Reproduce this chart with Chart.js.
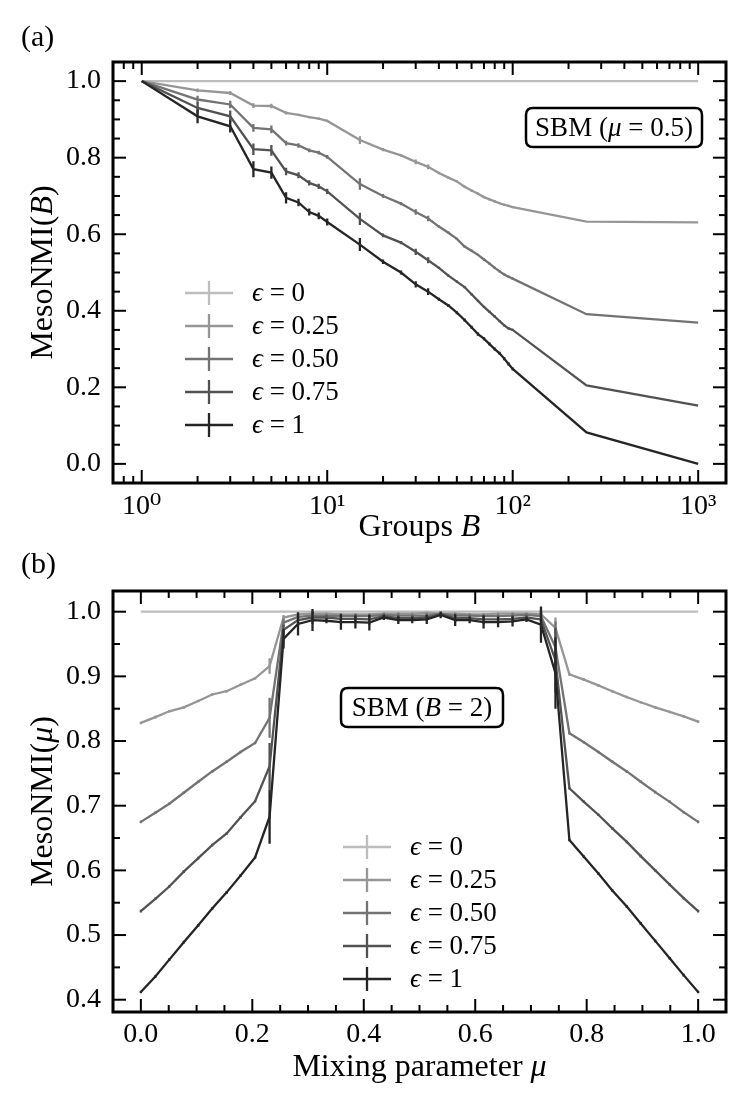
<!DOCTYPE html>
<html><head><meta charset="utf-8">
<script src="https://cdn.jsdelivr.net/npm/chart.js@4.4.1/dist/chart.umd.min.js"></script>
<style>
html,body{margin:0;padding:0;background:#fff;}
#wrap{position:relative;width:747px;height:1108px;overflow:hidden;}
#c1{position:absolute;left:0;top:0;}
#c2{position:absolute;left:0;top:545px;}
</style></head><body>
<div id="wrap"><canvas id="c1" width="747" height="545"></canvas><canvas id="c2" width="747" height="563"></canvas></div>
<script>
// ---------- DATA ----------
const LEGEND_EPS = ['0', '0.25', '0.50', '0.75', '1'];
const COLORS = ['#bdbdbd', '#969696', '#737373', '#525252', '#252525'];

// Panel (a): groups B
const groupsB = [1,2,3,4,5,6,7,8,9,10,15,20,25,30,35,40,45,50,55,60,65,70,75,80,85,90,95,100,250,1000];
const mesoB_eps0   = [1,1,1,1,1,1,1,1,1,1,1,1,1,1,1,1,1,1,1,1,1,1,1,1,1,1,1,1,1,1];
const mesoB_eps025 = [1.0,0.976,0.969,0.936,0.935,0.917,0.912,0.906,0.902,0.896,0.846,0.821,0.806,0.789,0.776,0.760,0.748,0.738,0.724,0.714,0.706,0.697,0.691,0.686,0.681,0.677,0.674,0.671,0.633,0.631];
const mesoB_eps050 = [1.0,0.952,0.939,0.878,0.874,0.838,0.832,0.819,0.813,0.802,0.731,0.700,0.680,0.658,0.641,0.620,0.604,0.588,0.568,0.557,0.546,0.534,0.523,0.512,0.503,0.495,0.489,0.484,0.391,0.369];
const mesoB_eps075 = [1.0,0.930,0.908,0.822,0.819,0.764,0.754,0.734,0.725,0.712,0.640,0.597,0.578,0.554,0.532,0.512,0.492,0.476,0.462,0.443,0.426,0.410,0.397,0.385,0.373,0.362,0.354,0.350,0.205,0.152];
const mesoB_eps1   = [1.0,0.908,0.882,0.770,0.761,0.695,0.683,0.658,0.648,0.632,0.573,0.528,0.500,0.469,0.450,0.430,0.414,0.395,0.376,0.357,0.339,0.327,0.313,0.300,0.289,0.275,0.261,0.248,0.082,0.0];
const errB_eps0   = [0,0,0,0,0,0,0,0,0,0,0,0,0,0,0,0,0,0,0,0,0,0,0,0,0,0,0,0,0,0];
const errB_eps025 = [0,0.005,0.005,0.006,0.006,0.004,0.003,0.003,0.003,0.003,0.010,0.004,0.003,0.006,0.006,0.003,0.003,0.003,0.003,0.003,0.003,0.003,0.003,0.003,0.003,0.003,0.003,0.003,0,0];
const errB_eps050 = [0,0.010,0.010,0.010,0.010,0.006,0.006,0.005,0.005,0.005,0.015,0.005,0.004,0.007,0.007,0.003,0.003,0.003,0.003,0.003,0.003,0.003,0.003,0.003,0.003,0.003,0.003,0.003,0,0];
const errB_eps075 = [0,0.015,0.015,0.015,0.014,0.010,0.008,0.007,0.007,0.007,0.016,0.005,0.004,0.008,0.008,0.003,0.003,0.003,0.003,0.003,0.003,0.003,0.003,0.003,0.003,0.003,0.003,0.003,0,0];
const errB_eps1   = [0,0.018,0.016,0.021,0.016,0.015,0.010,0.009,0.009,0.009,0.017,0.006,0.005,0.008,0.009,0.004,0.004,0.004,0.004,0.004,0.004,0.004,0.004,0.004,0.004,0.004,0.004,0.004,0,0];

// Panel (b): mixing parameter mu
const mixingMu = [0,0.026,0.051,0.077,0.103,0.128,0.154,0.179,0.205,0.231,0.256,0.282,0.308,0.333,0.359,0.385,0.410,0.436,0.462,0.487,0.513,0.538,0.564,0.590,0.615,0.641,0.667,0.692,0.718,0.744,0.769,0.795,0.821,0.846,0.872,0.897,0.923,0.949,0.974,1.0];
const mesoMu_eps0   = [1,1,1,1,1,1,1,1,1,1,1,1,1,1,1,1,1,1,1,1,1,1,1,1,1,1,1,1,1,1,1,1,1,1,1,1,1,1,1,1];
const mesoMu_eps025 = [0.828,0.837,0.846,0.852,0.862,0.872,0.877,0.887,0.897,0.916,0.991,0.996,0.997,0.997,0.996,0.996,0.996,0.997,0.997,0.997,0.998,0.997,0.997,0.996,0.996,0.997,0.997,0.997,0.996,0.975,0.903,0.895,0.886,0.877,0.868,0.860,0.852,0.845,0.838,0.830];
const mesoMu_eps050 = [0.675,0.689,0.703,0.720,0.737,0.753,0.768,0.783,0.797,0.836,0.983,0.992,0.994,0.994,0.993,0.993,0.993,0.995,0.994,0.994,0.994,0.997,0.994,0.994,0.993,0.993,0.994,0.995,0.993,0.945,0.812,0.798,0.783,0.768,0.753,0.737,0.721,0.706,0.690,0.675];
const mesoMu_eps075 = [0.537,0.556,0.575,0.598,0.619,0.639,0.657,0.682,0.707,0.761,0.972,0.987,0.991,0.991,0.989,0.989,0.988,0.993,0.990,0.990,0.991,0.996,0.990,0.990,0.988,0.988,0.989,0.991,0.988,0.925,0.727,0.706,0.686,0.665,0.644,0.622,0.600,0.578,0.557,0.537];
const mesoMu_eps1   = [0.412,0.436,0.462,0.489,0.515,0.541,0.566,0.592,0.620,0.683,0.958,0.981,0.987,0.986,0.984,0.984,0.983,0.991,0.987,0.987,0.988,0.995,0.987,0.987,0.984,0.984,0.985,0.988,0.980,0.905,0.647,0.621,0.595,0.569,0.544,0.518,0.491,0.464,0.438,0.412];
const errMu_eps0   = [0,0,0,0,0,0,0,0,0,0,0,0,0,0,0,0,0,0,0,0,0,0,0,0,0,0,0,0,0,0,0,0,0,0,0,0,0,0,0,0];
const errMu_eps025 = [0.002,0.002,0.002,0.002,0.002,0.002,0.002,0.002,0.002,0.012,0.004,0.002,0.002,0.002,0.002,0.002,0.002,0.002,0.002,0.002,0.002,0.002,0.002,0.002,0.002,0.002,0.002,0.002,0.004,0.016,0.002,0.002,0.002,0.002,0.002,0.002,0.002,0.002,0.002,0.002];
const errMu_eps050 = [0.002,0.002,0.002,0.002,0.002,0.002,0.002,0.002,0.002,0.031,0.006,0.004,0.004,0.003,0.004,0.004,0.004,0.003,0.004,0.003,0.004,0.003,0.004,0.003,0.004,0.004,0.004,0.003,0.008,0.040,0.002,0.002,0.002,0.002,0.002,0.002,0.002,0.002,0.002,0.002];
const errMu_eps075 = [0.002,0.002,0.002,0.002,0.002,0.002,0.002,0.002,0.002,0.036,0.008,0.010,0.010,0.004,0.008,0.007,0.008,0.004,0.005,0.004,0.005,0.004,0.006,0.004,0.007,0.006,0.006,0.004,0.015,0.050,0.002,0.002,0.002,0.002,0.002,0.002,0.002,0.002,0.002,0.002];
const errMu_eps1   = [0.002,0.002,0.002,0.002,0.002,0.002,0.002,0.002,0.002,0.042,0.015,0.018,0.017,0.004,0.012,0.010,0.012,0.004,0.006,0.005,0.007,0.005,0.009,0.005,0.010,0.008,0.008,0.004,0.028,0.055,0.002,0.002,0.002,0.002,0.002,0.002,0.002,0.002,0.002,0.002];

// Axis ticks
const X1_TICKS = [1, 10, 100, 1000];
const X1_TICK_LABELS = ['10\u2070', '10\u00B9', '10\u00B2', '10\u00B3'];
const X1_MINOR = [0.8,0.9,2,3,4,5,6,7,8,9,20,30,40,50,60,70,80,90,200,300,400,500,600,700,800,900];
const Y1_TICKS = [0.0, 0.2, 0.4, 0.6, 0.8, 1.0];
const Y1_MINOR = [0.05,0.1,0.15,0.25,0.3,0.35,0.45,0.5,0.55,0.65,0.7,0.75,0.85,0.9,0.95];
const X2_TICKS = [0.0, 0.2, 0.4, 0.6, 0.8, 1.0];
const X2_MINOR = [0.05,0.1,0.15,0.25,0.3,0.35,0.45,0.5,0.55,0.65,0.7,0.75,0.85,0.9,0.95];
const Y2_TICKS = [0.4, 0.5, 0.6, 0.7, 0.8, 0.9, 1.0];
const Y2_MINOR = [0.45,0.55,0.65,0.75,0.85,0.95];

// ---------- DRAWING ----------
const FONT = '"Liberation Serif", "DejaVu Serif", serif';

function rich(ctx, parts, x, y, size, align) {
  const fonts = parts.map(p => (p[1] ? 'italic ' : '') + size + 'px ' + FONT);
  let w = 0;
  const ws = parts.map((p, i) => { ctx.font = fonts[i]; const m = ctx.measureText(p[0]).width; w += m; return m; });
  let cx = align === 'center' ? x - w / 2 : (align === 'right' ? x - w : x);
  ctx.textAlign = 'left';
  parts.forEach((p, i) => { ctx.font = fonts[i]; ctx.fillText(p[0], cx, y); cx += ws[i]; });
}

function roundBox(ctx, x, y, w, h, r) {
  ctx.beginPath();
  ctx.moveTo(x + r, y);
  ctx.lineTo(x + w - r, y); ctx.quadraticCurveTo(x + w, y, x + w, y + r);
  ctx.lineTo(x + w, y + h - r); ctx.quadraticCurveTo(x + w, y + h, x + w - r, y + h);
  ctx.lineTo(x + r, y + h); ctx.quadraticCurveTo(x, y + h, x, y + h - r);
  ctx.lineTo(x, y + r); ctx.quadraticCurveTo(x, y, x + r, y);
  ctx.closePath();
}

const LW = 2.3;

const decoPlugin = {
  id: 'deco',
  afterDatasetDraw(chart, args) {
    const ds = chart.data.datasets[args.index];
    const errs = ds.errors;
    if (!errs) return;
    const { ctx, scales: { x, y } } = chart;
    ctx.save();
    ctx.strokeStyle = ds.borderColor; ctx.lineWidth = LW;
    ctx.beginPath();
    ds.data.forEach((p, i) => {
      const e = errs[i];
      if (!e) return;
      const px = x.getPixelForValue(p.x);
      ctx.moveTo(px, y.getPixelForValue(p.y - e));
      ctx.lineTo(px, y.getPixelForValue(p.y + e));
    });
    ctx.stroke();
    ctx.restore();
  },
  afterDraw(chart, args, o) {
    const { ctx, chartArea: a, scales: { x, y } } = chart;
    ctx.save();
    ctx.strokeStyle = '#000'; ctx.lineWidth = 2; ctx.lineCap = 'butt';
    const seg = (x1, y1, x2, y2) => { ctx.beginPath(); ctx.moveTo(x1, y1); ctx.lineTo(x2, y2); ctx.stroke(); };
    const MAJ = 13, MIN = 7;
    o.xMajor.forEach(v => { const p = x.getPixelForValue(v); seg(p, a.bottom, p, a.bottom - MAJ); seg(p, a.top, p, a.top + MAJ); });
    o.xMinor.forEach(v => { const p = x.getPixelForValue(v); seg(p, a.bottom, p, a.bottom - MIN); seg(p, a.top, p, a.top + MIN); });
    o.yMajor.forEach(v => { const p = y.getPixelForValue(v); seg(a.left, p, a.left + MAJ, p); seg(a.right, p, a.right - MAJ, p); });
    o.yMinor.forEach(v => { const p = y.getPixelForValue(v); seg(a.left, p, a.left + MIN, p); seg(a.right, p, a.right - MIN, p); });
    ctx.lineWidth = 3;
    ctx.strokeRect(a.left, a.top, a.right - a.left, a.bottom - a.top);

    ctx.fillStyle = '#000';
    ctx.textBaseline = 'alphabetic';
    // panel label
    ctx.font = '30px ' + FONT; ctx.textAlign = 'left';
    ctx.fillText(o.panel, o.panelX, o.panelY);
    // x title
    rich(ctx, o.xTitle, (a.left + a.right) / 2, o.xTitleY, 32, 'center');
    // y title (rotated)
    ctx.save();
    ctx.translate(o.yTitleX, (a.top + a.bottom) / 2);
    ctx.rotate(-Math.PI / 2);
    rich(ctx, o.yTitle, 0, 0, 32, 'center');
    ctx.restore();

    // annotation box
    const b = o.box;
    ctx.lineWidth = 2.5;
    roundBox(ctx, b.x, b.y, b.w, b.h, 7);
    ctx.fillStyle = '#fff'; ctx.fill(); ctx.stroke();
    ctx.fillStyle = '#000'; ctx.textBaseline = 'middle';
    rich(ctx, b.text, b.x + b.w / 2, b.y + b.h / 2 + 1, 27, 'center');

    // legend
    const L = o.legend;
    ctx.lineWidth = LW;
    chart.data.datasets.forEach((ds, k) => {
      const ry = L.y + k * L.dy;
      ctx.strokeStyle = ds.borderColor;
      seg(L.x, ry, L.x + 48, ry);
      seg(L.x + 24, ry - 12, L.x + 24, ry + 12);
      ctx.fillStyle = '#000';
      ctx.textBaseline = 'middle';
      rich(ctx, [['\u03F5', true], [' = ' + LEGEND_EPS[k], false]], L.x + 67, ry + 1, 27, 'left');
    });
    ctx.restore();
  }
};

function buildDatasets(xs, series, errors) {
  return series.map((vals, k) => ({
    label: '\u03F5 = ' + LEGEND_EPS[k],
    data: xs.map((xv, i) => ({ x: xv, y: vals[i] })),
    borderColor: COLORS[k], backgroundColor: COLORS[k],
    borderWidth: LW, pointRadius: 0, pointHoverRadius: 0, tension: 0,
    order: 5 - k, errors: errors[k]
  }));
}

const tickFont = { family: FONT, size: 28 };

// Chart (a)
new Chart(document.getElementById('c1'), {
  type: 'line',
  data: { datasets: buildDatasets(groupsB,
    [mesoB_eps0, mesoB_eps025, mesoB_eps050, mesoB_eps075, mesoB_eps1],
    [errB_eps0, errB_eps025, errB_eps050, errB_eps075, errB_eps1]) },
  options: {
    responsive: false, animation: false, devicePixelRatio: 1,
    layout: { padding: { left: 0, right: 21, top: 62, bottom: 0 } },
    plugins: {
      legend: { display: false }, tooltip: { enabled: false },
      deco: {
        xMajor: X1_TICKS, xMinor: X1_MINOR, yMajor: Y1_TICKS, yMinor: Y1_MINOR,
        panel: '(a)', panelX: 21, panelY: 46,
        xTitle: [['Groups ', false], ['B', true]], xTitleY: 536,
        yTitle: [['MesoNMI(', false], ['B', true], [')', false]], yTitleX: 52,
        box: { x: 526, y: 108, w: 176, h: 39, text: [['SBM (', false], ['\u03BC', true], [' = 0.5)', false]] },
        legend: { x: 185, y: 293, dy: 33 }
      }
    },
    scales: {
      x: {
        type: 'logarithmic', position: 'bottom', min: 0.708, max: 1412.5,
        grid: { display: false, drawTicks: false }, border: { display: false },
        afterBuildTicks: s => { s.ticks = X1_TICKS.map(v => ({ value: v })); },
        afterFit: s => { s.height = 62; },
        ticks: { autoSkip: false, maxRotation: 0, minRotation: 0, padding: 7, font: tickFont, color: '#000',
          callback: (v, i) => X1_TICK_LABELS[i] }
      },
      y: {
        type: 'linear', min: -0.05, max: 1.05,
        grid: { display: false, drawTicks: false }, border: { display: false },
        afterBuildTicks: s => { s.ticks = Y1_TICKS.map(v => ({ value: v })); },
        afterFit: s => { s.width = 113; },
        ticks: { padding: 12, font: tickFont, color: '#000', callback: v => Number(v).toFixed(1) }
      }
    }
  },
  plugins: [decoPlugin]
});

// Chart (b)
new Chart(document.getElementById('c2'), {
  type: 'line',
  data: { datasets: buildDatasets(mixingMu,
    [mesoMu_eps0, mesoMu_eps025, mesoMu_eps050, mesoMu_eps075, mesoMu_eps1],
    [errMu_eps0, errMu_eps025, errMu_eps050, errMu_eps075, errMu_eps1]) },
  options: {
    responsive: false, animation: false, devicePixelRatio: 1,
    layout: { padding: { left: 0, right: 21, top: 46, bottom: 0 } },
    plugins: {
      legend: { display: false }, tooltip: { enabled: false },
      deco: {
        xMajor: X2_TICKS, xMinor: X2_MINOR, yMajor: Y2_TICKS, yMinor: Y2_MINOR,
        panel: '(b)', panelX: 21, panelY: 28,
        xTitle: [['Mixing parameter ', false], ['\u03BC', true]], xTitleY: 531,
        yTitle: [['MesoNMI(', false], ['\u03BC', true], [')', false]], yTitleX: 52,
        box: { x: 341, y: 143, w: 162, h: 39, text: [['SBM (', false], ['B', true], [' = 2)', false]] },
        legend: { x: 343, y: 302, dy: 33 }
      }
    },
    scales: {
      x: {
        type: 'linear', position: 'bottom', min: -0.05, max: 1.05,
        grid: { display: false, drawTicks: false }, border: { display: false },
        afterBuildTicks: s => { s.ticks = X2_TICKS.map(v => ({ value: v })); },
        afterFit: s => { s.height = 96; },
        ticks: { autoSkip: false, maxRotation: 0, minRotation: 0, padding: 6, font: tickFont, color: '#000',
          callback: v => Number(v).toFixed(1) }
      },
      y: {
        type: 'linear', min: 0.381, max: 1.032,
        grid: { display: false, drawTicks: false }, border: { display: false },
        afterBuildTicks: s => { s.ticks = Y2_TICKS.map(v => ({ value: v })); },
        afterFit: s => { s.width = 113; },
        ticks: { padding: 12, font: tickFont, color: '#000', callback: v => Number(v).toFixed(1) }
      }
    }
  },
  plugins: [decoPlugin]
});
</script>
</body></html>
